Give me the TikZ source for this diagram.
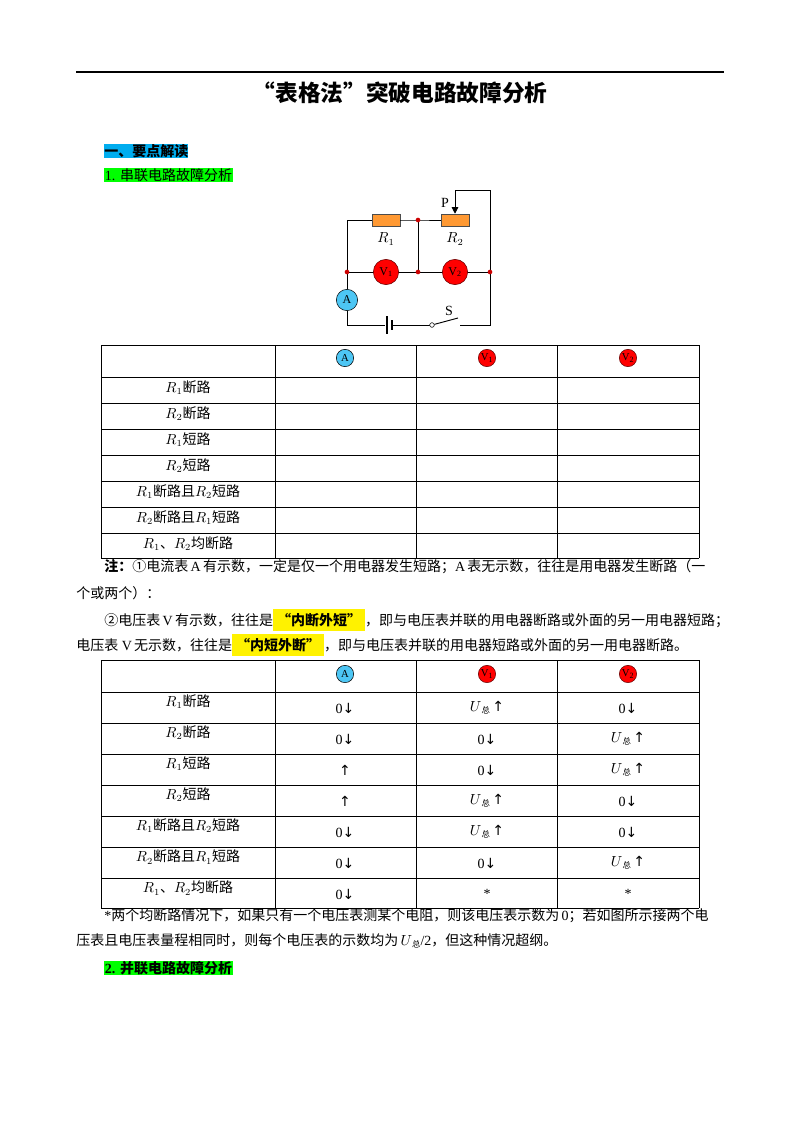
\documentclass[tikz,border=0pt]{standalone}
\usepackage{fontspec}
\setmainfont{Liberation Serif}
\newfontfamily\cjk{Noto Sans CJK SC}
\newfontfamily\dvs{DejaVu Sans}
\newcommand\C[1]{{\cjk #1}}
\newcommand\up{{\dvs\char"2191}}
\newcommand\dn{{\dvs\char"2193}}
\newcommand\Uz{$U$\raisebox{-0.3ex}{\scalebox{0.6}{\C{总}}}}
\usetikzlibrary{arrows.meta}
\begin{document}
\begin{tikzpicture}[x=0.75pt,y=-0.75pt,
  txt/.style={font=\fontsize{10.5pt}{12pt}\selectfont,inner sep=0pt,anchor=west},
  cell/.style={font=\fontsize{10.5pt}{12pt}\selectfont,inner sep=0pt},
  meterA/.style={circle,draw=black,fill=cyan!70,minimum size=16pt,inner sep=0pt,font=\fontsize{9pt}{9pt}\selectfont},
  meterV/.style={circle,draw=black!60!red,fill=red,minimum size=19pt,inner sep=0pt,font=\fontsize{9pt}{9pt}\selectfont},
  smA/.style={circle,draw=black,fill=cyan!70,minimum size=13pt,inner sep=0pt,font=\fontsize{8pt}{8pt}\selectfont},
  smV/.style={circle,draw=black!60!red,fill=red,minimum size=13pt,inner sep=0pt,font=\fontsize{8pt}{8pt}\selectfont},
  res/.style={draw=black!70,fill=orange!80,minimum width=21pt,minimum height=9pt,inner sep=0pt},
  dot/.style={circle,fill=red!80!black,minimum size=3.5pt,inner sep=0pt},
  wire/.style={line width=0.7pt},
  grid/.style={line width=0.5pt}]
\useasboundingbox (0,0) rectangle (800,1132);
\draw[line width=0.8pt] (76,72) -- (724,72);
\node[font=\fontsize{17pt}{19pt}\selectfont\bfseries] (title) at (400,93) {\C{“表格法”突破电路故障分析}};
\node[txt,fill=cyan,font=\fontsize{10.5pt}{12pt}\selectfont\bfseries] (h1) at (104,151) {\C{一、要点解读}};
\node[txt,fill=green,inner sep=0.5pt] (h2) at (104,175) {1. \C{串联电路故障分析}};
% circuit
\coordinate (tl) at (347,220); \coordinate (tr) at (418,220);
\coordinate (ml) at (347,272); \coordinate (mm) at (418,272); \coordinate (mr) at (490,272);
\coordinate (bl) at (347,325); \coordinate (br) at (490,325);
\coordinate (pt) at (455,190); \coordinate (rt) at (490,190);
\node[res] (R1) at (386,220) {};
\node[res] (R2) at (455,220) {};
\draw[wire] (ml) -- (tl) -- (R1) -- (tr) -- (R2);
\draw[wire] (tr) -- (mm);
\draw[wire] (ml) -- (mr);
\node[meterV] (V1) at (386,272) {V\textsubscript{1}};
\node[meterV] (V2) at (455,272) {V\textsubscript{2}};
\draw[wire] (mr) -- (rt) -- (pt);
\draw[wire,-{Triangle[length=5pt,width=5pt]}] (pt) -- (R2.north);
\draw[wire] (mr) -- (br) -- (460,325);
\node[meterA] (A) at (347,300) {A};
\draw[wire] (ml) -- (A) -- (bl) -- (385,325);
\draw[line width=1.2pt] (387,316) -- (387,334);
\draw[line width=2pt] (392,320) -- (392,330);
\draw[wire] (393,325) -- (430,325);
\node[circle,draw,fill=white,minimum size=3.5pt,inner sep=0pt] (sw) at (432,325) {};
\draw[wire] (sw) -- (458,318);
\foreach \p/\n in {ml/d1,mm/d2,mr/d3,tr/d4} \node[dot] (\n) at (\p) {};
\node[cell] (P) at (445,203) {P};
\node[cell] (S) at (449,311) {S};
\node[cell] (L1) at (386,239) {$R_1$};
\node[cell] (L2) at (455,239) {$R_2$};
% table 1
\foreach \x in {101,275,416,557,699} \draw[grid] (\x,345) -- (\x,558);
\foreach \y in {345,377,403,429,455,481,507,533,558} \draw[grid] (101,\y) -- (699,\y);
\node[smA] (t1a) at (345,358) {A};
\node[smV] (t1b) at (487,358) {V\textsubscript{1}};
\node[smV] (t1c) at (628,358) {V\textsubscript{2}};
\foreach \t [count=\i] in {{$R_1$\C{断路}},{$R_2$\C{断路}},{$R_1$\C{短路}},{$R_2$\C{短路}},{$R_1$\C{断路且}$R_2$\C{短路}},{$R_2$\C{断路且}$R_1$\C{短路}},{$R_1$\C{、}$R_2$\C{均断路}}}
  \node[cell] (ta\i) at (188,{377+26*(\i-1)+11}) {\t};
% notes
\node[txt] (n1) at (104,567) {\textbf{\C{注：}}\C{①电流表}\,A\,\C{有示数，一定是仅一个用电器发生短路；}A\,\C{表无示数，往往是用电器发生断路（一}};
\node[txt] (n2) at (76,593) {\C{个或两个）：}};
\node[txt] (n3) at (104,620) {\C{②电压表}\,V\,\C{有示数，往往是}\colorbox{yellow}{\bfseries\C{“内断外短”}}\C{，即与电压表并联的用电器断路或外面的另一用电器短路；}};
\node[txt] (n4) at (76,645) {\C{电压表}\ V\,\C{无示数，往往是}\colorbox{yellow}{\bfseries\C{“内短外断”}}\C{，即与电压表并联的用电器短路或外面的另一用电器断路。}};
% table 2
\foreach \x in {101,275,416,557,699} \draw[grid] (\x,660) -- (\x,908);
\foreach \y in {660,692,723,754,785,816,847,878,908} \draw[grid] (101,\y) -- (699,\y);
\node[smA] (t2a) at (345,674) {A};
\node[smV] (t2b) at (487,674) {V\textsubscript{1}};
\node[smV] (t2c) at (628,674) {V\textsubscript{2}};
\foreach \t [count=\i] in {{$R_1$\C{断路}},{$R_2$\C{断路}},{$R_1$\C{短路}},{$R_2$\C{短路}},{$R_1$\C{断路且}$R_2$\C{短路}},{$R_2$\C{断路且}$R_1$\C{短路}},{$R_1$\C{、}$R_2$\C{均断路}}}
  \node[cell] (tb\i) at (188,{692+31*(\i-1)+10}) {\t};
\foreach \a/\b/\c [count=\i] in {0\dn/\Uz\,\up/0\dn, 0\dn/0\dn/\Uz\,\up, \up/0\dn/\Uz\,\up, \up/\Uz\,\up/0\dn, 0\dn/\Uz\,\up/0\dn, 0\dn/0\dn/\Uz\,\up, 0\dn/*/*}{
  \node[cell] (ca\i) at (345,{692+31*(\i-1)+16}) {\a};
  \node[cell] (cb\i) at (487,{692+31*(\i-1)+16}) {\b};
  \node[cell] (cc\i) at (628,{692+31*(\i-1)+16}) {\c};}
\node[txt] (f1) at (104,916) {*\C{两个均断路情况下，如果只有一个电压表测某个电阻，则该电压表示数为}\,0\C{；若如图所示接两个电}};
\node[txt] (f2) at (76,941) {\C{压表且电压表量程相同时，则每个电压表的示数均为}\,\Uz/2\C{，但这种情况超纲。}};
\node[txt,fill=green,inner sep=0.5pt,font=\fontsize{10.5pt}{12pt}\selectfont\bfseries] (h3) at (104,968) {2. \C{并联电路故障分析}};
\end{tikzpicture}
\end{document}
